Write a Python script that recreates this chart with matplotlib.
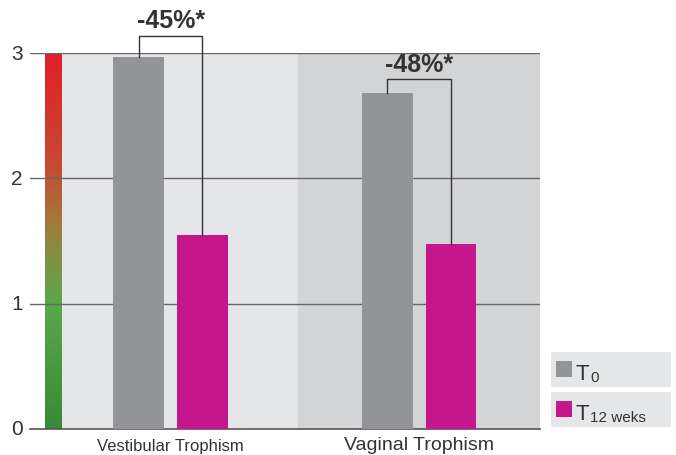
import numpy as np
import matplotlib.pyplot as plt
import matplotlib.patches as patches
from matplotlib.colors import LinearSegmentedColormap

plt.rcParams['font.family'] = ['Liberation Sans', 'DejaVu Sans']

categories = ['Vestibular Trophism', 'Vaginal Trophism']
t0_values = [2.97, 2.68]
t12_values = [1.55, 1.48]
changes = ['-45%*', '-48%*']
series_labels = [('T', '0'), ('T', '12 weks')]

gray = '#939498'
magenta = '#c5168d'

W, H = 676, 456
fig = plt.figure(figsize=(W / 100, H / 100), dpi=100, facecolor='white')

# axes box in pixels: x 30..540, y(0)=430, y(3)=54
ax = fig.add_axes([30 / W, (H - 430) / H, (540 - 30) / W, (430 - 54) / H])
x = np.arange(len(categories))
ax.axis('off')

# background panels
ax.axvspan(-0.4416, 0.512, color='#e5e6e8', zorder=0)
ax.axvspan(0.512, 1.486, color='#d3d4d6', zorder=0)

# gradient scale bar
cmap = LinearSegmentedColormap.from_list('scale', [
    (0.0, '#378a37'), (0.33, '#5aa84a'), (0.45, '#7e9345'),
    (0.55, '#a27a3b'), (0.7, '#c64a32'), (1.0, '#e0202a')])
grad = np.linspace(0, 1, 256).reshape(-1, 1)
ax.imshow(grad, extent=[-0.506, -0.4416, 0, 3], origin='lower', cmap=cmap,
          aspect='auto', zorder=1)
ax.set_xlim(-0.566, 1.486)
ax.set_ylim(0, 3)

# grid lines and ticks
for v in [1, 2, 3]:
    ax.plot([-0.566, 1.486], [v, v], color='#666666', lw=1.0, zorder=2)
ax.plot([-0.566, 1.486], [0, 0], color='#555555', lw=1.2, zorder=2, clip_on=False)
for v in [0, 1, 2, 3]:
    ax.text(-0.595, v, str(v), ha='right', va='center', fontsize=15,
            color='#333333')

bw = 0.205
off = 0.128
ax.bar(x - off, t0_values, width=bw, color=gray, zorder=3)
ax.bar(x + off, t12_values, width=bw, color=magenta, zorder=3)

# brackets
tops = [3.135, 2.79]
for i in range(len(categories)):
    xl, xr = x[i] - off, x[i] + off
    ax.plot([xl, xl, xr, xr], [t0_values[i], tops[i], tops[i], t12_values[i]],
            color='#333333', lw=1.0, zorder=4, clip_on=False)
    ax.text(x[i], tops[i] + 0.03, changes[i], ha='center', va='bottom',
            fontsize=18, fontweight='bold', color='#333333', zorder=5)

# category labels
ax.text(x[0], -0.07, categories[0], ha='center', va='top', fontsize=12,
        color='#333333')
ax.text(x[1], -0.055, categories[1], ha='center', va='top', fontsize=14,
        color='#333333')

# legend boxes
colors = [gray, magenta]
box_tops = [353, 393]
for i, (c, bt) in enumerate(zip(colors, box_tops)):
    box = patches.FancyBboxPatch((551 / W, (H - bt - 35) / H), 120 / W, 35 / H,
                                 boxstyle='round,pad=0,rounding_size=0.004',
                                 transform=fig.transFigure, facecolor='#e5e6e8',
                                 edgecolor='none')
    fig.patches.append(box)
    sq = patches.Rectangle((556 / W, (H - bt - 25) / H), 16 / W, 16 / H,
                           transform=fig.transFigure, facecolor=c, edgecolor='none')
    fig.patches.append(sq)
    main, sub = series_labels[i]
    fig.text(576 / W, (H - bt - 27) / H, main, fontsize=16, color='#333333',
             ha='left', va='baseline')
    fig.text(590 / W, (H - bt - 29) / H, sub, fontsize=11, color='#333333',
             ha='left', va='baseline')

plt.savefig('out.png', dpi=100)
